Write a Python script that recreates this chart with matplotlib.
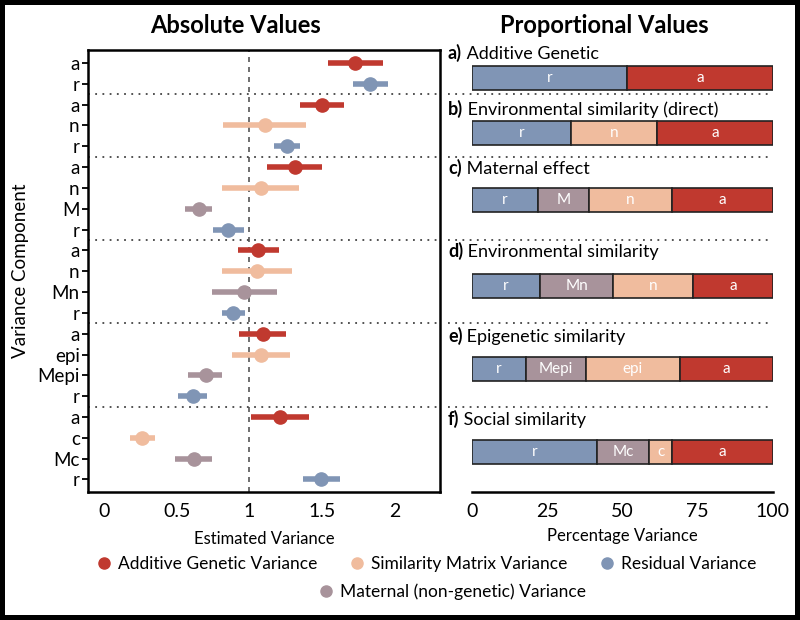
import matplotlib
matplotlib.use("Agg")
import matplotlib.pyplot as plt
from matplotlib.lines import Line2D

plt.rcParams['font.family'] = ['Lato', 'DejaVu Sans']

# colours per variance type
colors = {'a': '#c0392f', 'n': '#f0bc9e', 'r': '#8095b5', 'M': '#a8939b'}

# absolute values: one row per component, top to bottom
row_labels = ['a', 'r',
              'a', 'n', 'r',
              'a', 'n', 'M', 'r',
              'a', 'n', 'Mn', 'r',
              'a', 'epi', 'Mepi', 'r',
              'a', 'c', 'Mc', 'r']
row_kind = ['a', 'r',
            'a', 'n', 'r',
            'a', 'n', 'M', 'r',
            'a', 'n', 'M', 'r',
            'a', 'n', 'M', 'r',
            'a', 'n', 'M', 'r']
estimate = [1.725, 1.83,
            1.50, 1.11, 1.26,
            1.31, 1.08, 0.65, 0.85,
            1.06, 1.05, 0.96, 0.89,
            1.09, 1.08, 0.70, 0.61,
            1.21, 0.26, 0.62, 1.49]
lower = [1.54, 1.71,
         1.35, 0.82, 1.17,
         1.12, 0.81, 0.56, 0.75,
         0.92, 0.81, 0.74, 0.81,
         0.93, 0.88, 0.58, 0.51,
         1.01, 0.18, 0.49, 1.37]
upper = [1.92, 1.95,
         1.65, 1.39, 1.35,
         1.50, 1.34, 0.74, 0.96,
         1.20, 1.29, 1.19, 0.97,
         1.25, 1.28, 0.81, 0.71,
         1.41, 0.35, 0.74, 1.62]
group_sizes = [2, 3, 4, 4, 4, 4]

# proportional values (percent), left to right
model_titles = ['Additive Genetic', 'Environmental similarity (direct)',
                'Maternal effect', 'Environmental similarity',
                'Epigenetic similarity', 'Social similarity']
model_letters = ['a)', 'b)', 'c)', 'd)', 'e)', 'f)']
seg_labels = [['r', 'a'],
              ['r', 'n', 'a'],
              ['r', 'M', 'n', 'a'],
              ['r', 'Mn', 'n', 'a'],
              ['r', 'Mepi', 'epi', 'a'],
              ['r', 'Mc', 'c', 'a']]
seg_kind = [['r', 'a'],
            ['r', 'n', 'a'],
            ['r', 'M', 'n', 'a'],
            ['r', 'M', 'n', 'a'],
            ['r', 'M', 'n', 'a'],
            ['r', 'M', 'n', 'a']]
seg_values = [[51.5, 48.5],
              [33.0, 28.5, 38.5],
              [22.0, 17.0, 27.5, 33.5],
              [22.5, 24.5, 26.5, 26.5],
              [18.0, 20.0, 31.0, 31.0],
              [41.5, 17.5, 7.5, 33.5]]

# layout (row units) for the right panel
bar_centers = [0.72, 3.37, 6.59, 10.72, 14.7, 18.7]
title_pos = [-0.5, 2.2, 5.05, 9.04, 13.1, 17.1]

fig = plt.figure(figsize=(8, 6.2), dpi=100)
ax = fig.add_axes([0.11, 0.2065, 0.44, 0.7129])
ax2 = fig.add_axes([0.59, 0.2065, 0.376, 0.7129])

ylim = (20.6, -0.625)
n = len(row_labels)
seps = []
acc = 0
for g in group_sizes[:-1]:
    acc += g
    seps.append(acc - 0.5)

# left panel
ax.axvline(1, color='#555555', ls=(0, (3, 3)), lw=1.2, zorder=1)
for y in seps:
    ax.axhline(y, color='#444444', ls=(0, (1, 3)), lw=1.3, zorder=1)
for i in range(n):
    c = colors[row_kind[i]]
    ax.plot([lower[i], upper[i]], [i, i], color=c, lw=4, solid_capstyle='butt', zorder=2)
    ax.plot(estimate[i], i, 'o', color=c, ms=9.5, zorder=3)
ax.set_ylim(ylim)
ax.set_xlim(-0.11, 2.31)
ax.set_yticks(range(n))
ax.set_yticklabels(row_labels, fontsize=13.5)
ax.set_xticks([0, 0.5, 1, 1.5, 2])
ax.set_xticklabels(['0', '0.5', '1', '1.5', '2'], fontsize=14)
ax.tick_params(axis='y', length=4, width=1.3, pad=2)
ax.tick_params(axis='x', length=0, pad=8)
for s in ax.spines.values():
    s.set_linewidth(1.8)
ax.set_xlabel('Estimated Variance', fontsize=12, labelpad=8)
ax.set_ylabel('Variance Component', fontsize=13.5, labelpad=6)
ax.set_title('Absolute Values', fontsize=17, fontweight='bold', pad=12, x=0.42)

# right panel
for m in range(len(seg_values)):
    left = 0
    yc = bar_centers[m]
    for lab, kind, v in zip(seg_labels[m], seg_kind[m], seg_values[m]):
        ax2.barh(yc, v, left=left, height=1.15, color=colors[kind],
                 edgecolor='#222222', linewidth=1.2)
        ax2.text(left + v / 2, yc, lab, color='white', fontsize=11,
                 ha='center', va='center')
        left += v
    t = ax2.text(-8, title_pos[m], model_letters[m], fontsize=13,
                 fontweight='bold', va='center')
    ax2.annotate(' ' + model_titles[m], xy=(1, 0), xycoords=t,
                 fontsize=13, va='bottom', ha='left')
for y in seps:
    ax2.plot([-8, 100], [y, y], color='#444444', ls=(0, (1, 3)), lw=1.3,
             clip_on=False)
ax2.set_ylim(ylim)
ax2.set_xlim(0, 100)
ax2.set_yticks([])
ax2.set_xticks([0, 25, 50, 75, 100])
ax2.set_xticklabels(['0', '25', '50', '75', '100'], fontsize=14)
ax2.tick_params(axis='x', length=0, pad=8)
for side in ['left', 'top', 'right']:
    ax2.spines[side].set_visible(False)
ax2.spines['bottom'].set_linewidth(1.8)
ax2.set_xlabel('Percentage Variance', fontsize=12, labelpad=6)
ax2.set_title('Proportional Values', fontsize=17, fontweight='bold', pad=12, x=0.44)

# legend
def handle(kind, label):
    return Line2D([], [], marker='o', ls='', color=colors[kind], ms=8, label=label)

leg1 = fig.legend(handles=[handle('a', 'Additive Genetic Variance'),
                           handle('n', 'Similarity Matrix Variance'),
                           handle('r', 'Residual Variance')],
                  loc='center', bbox_to_anchor=(0.532, 0.09), ncol=3,
                  frameon=False, fontsize=12.5, handletextpad=0.3,
                  columnspacing=1.8, handlelength=1.0)
leg2 = fig.legend(handles=[handle('M', 'Maternal (non-genetic) Variance')],
                  loc='center', bbox_to_anchor=(0.565, 0.045), frameon=False,
                  fontsize=12.5, handletextpad=0.3, handlelength=1.0)

fig.patch.set_edgecolor('black')
fig.patch.set_linewidth(6)

fig.savefig('out.png', dpi=100, edgecolor=fig.get_edgecolor())
